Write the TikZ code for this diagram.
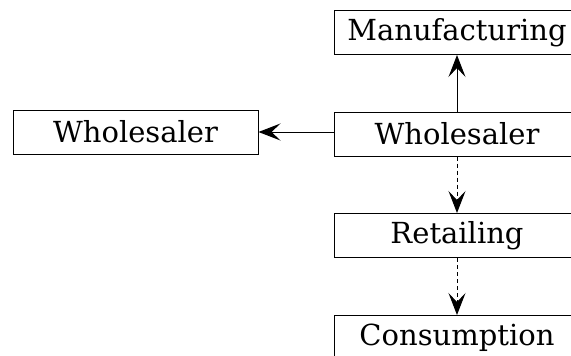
\documentclass[tikz,border=0pt]{standalone}
\usepackage{fontspec}
\setmainfont{DejaVu Serif}
\usetikzlibrary{arrows.meta}
\begin{document}
\begin{tikzpicture}[x=1pt,y=-1pt,
  box/.style={draw,line width=1pt,minimum width=246pt,minimum height=44pt,inner sep=0pt,
    font=\fontsize{29}{34}\selectfont},
  arr/.style={line width=1pt,-{Stealth[length=22pt,width=17pt,inset=9pt]}},
  darr/.style={arr,dash pattern=on 4pt off 3pt}]
\useasboundingbox (0,0) rectangle (571,356);
\clip (0,0) rectangle (571,356);
\node[box] (man) at (457,32.5) {Manufacturing};
\node[box] (wr) at (457,134) {Wholesaler};
\node[box,minimum width=245pt] (wl) at (135.5,132) {Wholesaler};
\node[box] (ret) at (457,235.5) {Retailing};
\node[box] (con) at (457,337.5) {Consumption};
\draw[arr] (wr.north) -- (man.south);
\draw[arr] (wr.west |- wl.east) -- (wl.east);
\draw[darr] (wr.south) -- (ret.north);
\draw[darr] (ret.south) -- (con.north);
\end{tikzpicture}
\end{document}
